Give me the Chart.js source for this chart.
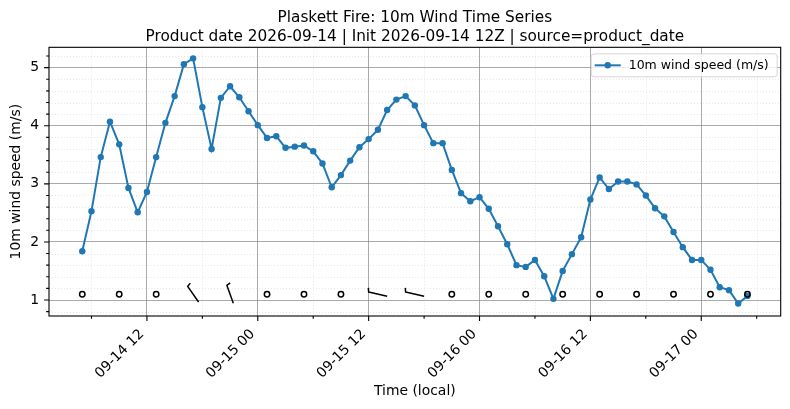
<!DOCTYPE html>
<html>
<head>
<meta charset="utf-8">
<script src="https://cdn.jsdelivr.net/npm/chart.js@4.4.1/dist/chart.umd.min.js"></script>
<style>
  html, body { margin: 0; padding: 0; background: #fff; }
</style>
</head>
<body>
<canvas id="chart" width="790" height="409"></canvas>
<script>
// Chart text
const titleLines = [
  'Plaskett Fire: 10m Wind Time Series',
  'Product date 2026-09-14 | Init 2026-09-14 12Z | source=product_date',
];
const seriesLabel = '10m wind speed (m/s)';

// Hourly series, first value at 2026-09-14 05:00 local (hours counted from 09-14 00:00)
const firstHour = 5;
const windSpeed = [
  1.84, 2.53, 3.46, 4.07, 3.68, 2.93, 2.51, 2.86, 3.46, 4.05, 4.51, 5.06, 5.16, 4.32, 3.60,
  4.48, 4.68, 4.49, 4.25, 4.01, 3.79, 3.82, 3.62, 3.64, 3.66, 3.56, 3.35, 2.94, 3.15, 3.40,
  3.63, 3.77, 3.93, 4.27, 4.45, 4.51, 4.35, 4.01, 3.70, 3.70, 3.24, 2.84, 2.70, 2.77, 2.57,
  2.27, 1.96, 1.60, 1.57, 1.69, 1.41, 1.02, 1.50, 1.79, 2.08, 2.73, 3.11, 2.91, 3.04, 3.04,
  2.99, 2.80, 2.58, 2.44, 2.17, 1.91, 1.69, 1.69, 1.52, 1.22, 1.17, 0.94, 1.07,
];

// Wind barbs drawn along y = 1.1, every 4 hours
const barbLevel = 1.1;
const barbHours = [5, 9, 13, 17, 21, 25, 29, 33, 37, 41, 45, 49, 53, 57, 61, 65, 69, 73, 77];
const barbSpeed = [0, 0, 0, 5, 5, 0, 0, 0, 5, 5, 0, 0, 0, 0, 0, 0, 0, 0, 0];
const barbDir = [0, 0, 0, 325, 340, 0, 0, 0, 283, 283, 0, 0, 0, 0, 0, 0, 0, 0, 0];

// Axes
const xRange = [1.4, 80.6];
const yRange = [0.725, 5.35];
const xMajorTicks = [12, 24, 36, 48, 60, 72];
const xMinorTicks = [6, 18, 30, 42, 54, 66, 78];
const yMajorTicks = [1, 2, 3, 4, 5];
const yMinorTicks = [0.8, 1.2, 1.4, 1.6, 1.8, 2.2, 2.4, 2.6, 2.8, 3.2, 3.4, 3.6, 3.8, 4.2, 4.4, 4.6, 4.8, 5.2];

const FONT = '"DejaVu Sans", sans-serif';
const LINE_COLOR = '#1f77b4';
const MAJOR_GRID = 'rgba(128,128,128,0.75)';

const pad2 = (n) => String(n).padStart(2, '0');

/**
 * Format hours since 09-14 00:00 as "09-DD HH"
 */
const formatHour = (h) => {
  const day = 14 + Math.floor(h / 24);
  return `09-${pad2(day)} ${pad2(h % 24)}`;
};

const points = windSpeed.map((v, i) => ({ x: firstHour + i, y: v }));

// minor grid, tick marks and the full frame (matplotlib style)
const axesDecor = {
  id: 'axesDecor',
  beforeDatasetsDraw(chart) {
    const { ctx, chartArea: a, scales: { x, y } } = chart;
    ctx.save();
    ctx.strokeStyle = 'rgba(190,190,190,0.6)';
    ctx.lineWidth = 0.6;
    ctx.setLineDash([1, 2]);
    ctx.beginPath();
    xMinorTicks.forEach((v) => {
      const px = Math.round(x.getPixelForValue(v)) + 0.5;
      ctx.moveTo(px, a.top);
      ctx.lineTo(px, a.bottom);
    });
    yMinorTicks.forEach((v) => {
      const py = Math.round(y.getPixelForValue(v)) + 0.5;
      ctx.moveTo(a.left, py);
      ctx.lineTo(a.right, py);
    });
    ctx.stroke();
    ctx.restore();
  },
  afterDraw(chart) {
    const { ctx, chartArea: a, scales: { x, y } } = chart;
    ctx.save();
    ctx.strokeStyle = '#000';
    ctx.lineWidth = 1.1;
    ctx.beginPath();
    const tickX = (list, len) => list.forEach((v) => {
      const px = x.getPixelForValue(v);
      ctx.moveTo(px, a.bottom);
      ctx.lineTo(px, a.bottom + len);
    });
    const tickY = (list, len) => list.forEach((v) => {
      const py = y.getPixelForValue(v);
      ctx.moveTo(a.left, py);
      ctx.lineTo(a.left - len, py);
    });
    tickX(xMajorTicks, 4.9);
    tickX(xMinorTicks, 2.8);
    tickY(yMajorTicks, 4.9);
    tickY(yMinorTicks, 2.8);
    ctx.stroke();
    ctx.strokeRect(a.left, a.top, a.right - a.left, a.bottom - a.top);
    ctx.restore();
  },
};

// wind barbs (pivot at middle): empty circle for calm, half barb for 5
const windBarbs = {
  id: 'windBarbs',
  afterDatasetsDraw(chart) {
    const { ctx, scales: { x, y } } = chart;
    const L = 19;
    ctx.save();
    ctx.strokeStyle = '#000';
    ctx.lineWidth = 1.5;
    ctx.lineJoin = 'round';
    barbHours.forEach((h, i) => {
      const cx = x.getPixelForValue(h);
      const cy = y.getPixelForValue(barbLevel);
      if (barbSpeed[i] < 5) {
        ctx.beginPath();
        ctx.arc(cx, cy, 2.7, 0, Math.PI * 2);
        ctx.stroke();
        return;
      }
      const rad = (barbDir[i] * Math.PI) / 180;
      // staff points to where the wind comes from, barb on the clockwise side
      const ux = Math.sin(rad);
      const uy = -Math.cos(rad);
      const px = -uy;
      const py = ux;
      const ex = cx + (ux * L) / 2;
      const ey = cy + (uy * L) / 2;
      ctx.beginPath();
      ctx.moveTo(cx - (ux * L) / 2, cy - (uy * L) / 2);
      ctx.lineTo(ex, ey);
      ctx.lineTo(ex + px * 4 + ux * 1.2, ey + py * 4 + uy * 1.2);
      ctx.stroke();
    });
    ctx.restore();
  },
};

// legend box in the upper right of the axes
const boxLegend = {
  id: 'boxLegend',
  afterDraw(chart) {
    const { ctx, chartArea: a } = chart;
    const w = 186;
    const h = 23;
    const left = a.right - 4 - w;
    const top = a.top + 6;
    ctx.save();
    ctx.fillStyle = 'rgba(255,255,255,0.8)';
    ctx.strokeStyle = 'rgba(204,204,204,0.8)';
    ctx.lineWidth = 1;
    ctx.beginPath();
    ctx.roundRect(left + 0.5, top + 0.5, w, h, 3);
    ctx.fill();
    ctx.stroke();
    const my = top + h / 2 + 0.5;
    ctx.strokeStyle = LINE_COLOR;
    ctx.lineWidth = 2;
    ctx.beginPath();
    ctx.moveTo(left + 4, my);
    ctx.lineTo(left + 30, my);
    ctx.stroke();
    ctx.fillStyle = LINE_COLOR;
    ctx.beginPath();
    ctx.arc(left + 17, my, 3.2, 0, Math.PI * 2);
    ctx.fill();
    ctx.fillStyle = '#000';
    ctx.font = `12.5px ${FONT}`;
    ctx.textBaseline = 'middle';
    ctx.fillText(seriesLabel, left + 38, my);
    ctx.restore();
  },
};

new Chart(document.getElementById('chart'), {
  type: 'line',
  data: {
    datasets: [
      {
        label: seriesLabel,
        data: points,
        borderColor: LINE_COLOR,
        backgroundColor: LINE_COLOR,
        borderWidth: 2,
        pointRadius: 3.2,
        pointBackgroundColor: LINE_COLOR,
        pointBorderWidth: 0,
        tension: 0,
      },
    ],
  },
  options: {
    responsive: false,
    animation: false,
    devicePixelRatio: 1,
    layout: { padding: { left: 0, right: 9.3, top: 0, bottom: 0 } },
    plugins: {
      legend: { display: false },
      tooltip: { enabled: false },
      title: {
        display: true,
        fullSize: false,
        text: titleLines,
        color: '#000',
        font: { family: FONT, size: 15.3, weight: 'normal', lineHeight: 1.2 },
        padding: { top: 9, bottom: 1.6 },
      },
    },
    scales: {
      x: {
        type: 'linear',
        min: xRange[0],
        max: xRange[1],
        afterBuildTicks: (s) => {
          s.ticks = [...xMinorTicks, ...xMajorTicks].sort((p, q) => p - q).map((v) => ({ value: v }));
        },
        afterFit: (s) => { s.height = 93; },
        grid: {
          drawTicks: false,
          lineWidth: 0.9,
          color: (c) => (c.tick && xMajorTicks.includes(c.tick.value) ? MAJOR_GRID : 'rgba(0,0,0,0)'),
        },
        border: { display: false },
        ticks: {
          autoSkip: false,
          minRotation: 45,
          maxRotation: 45,
          padding: 10,
          labelOffset: -5,
          color: '#000',
          font: { family: FONT, size: 13.9 },
          callback: (v) => (xMajorTicks.includes(v) ? formatHour(v) : ''),
        },
        title: {
          display: true,
          text: 'Time (local)',
          color: '#000',
          font: { family: FONT, size: 13.9 },
          padding: { top: 0, bottom: 9.5 },
        },
      },
      y: {
        type: 'linear',
        min: yRange[0],
        max: yRange[1],
        afterBuildTicks: (s) => {
          s.ticks = [...yMinorTicks, ...yMajorTicks].sort((p, q) => p - q).map((v) => ({ value: v }));
        },
        afterFit: (s) => { s.width = 49; },
        grid: {
          drawTicks: false,
          lineWidth: 0.9,
          color: (c) => (c.tick && yMajorTicks.includes(c.tick.value) ? MAJOR_GRID : 'rgba(0,0,0,0)'),
        },
        border: { display: false },
        ticks: {
          autoSkip: false,
          padding: 10,
          color: '#000',
          font: { family: FONT, size: 13.9 },
          callback: (v) => (yMajorTicks.includes(v) ? String(v) : ''),
        },
        title: {
          display: true,
          text: '10m wind speed (m/s)',
          color: '#000',
          font: { family: FONT, size: 13.9 },
          padding: { top: 7.7, bottom: 0 },
        },
      },
    },
  },
  plugins: [axesDecor, windBarbs, boxLegend],
});
</script>
</body>
</html>
